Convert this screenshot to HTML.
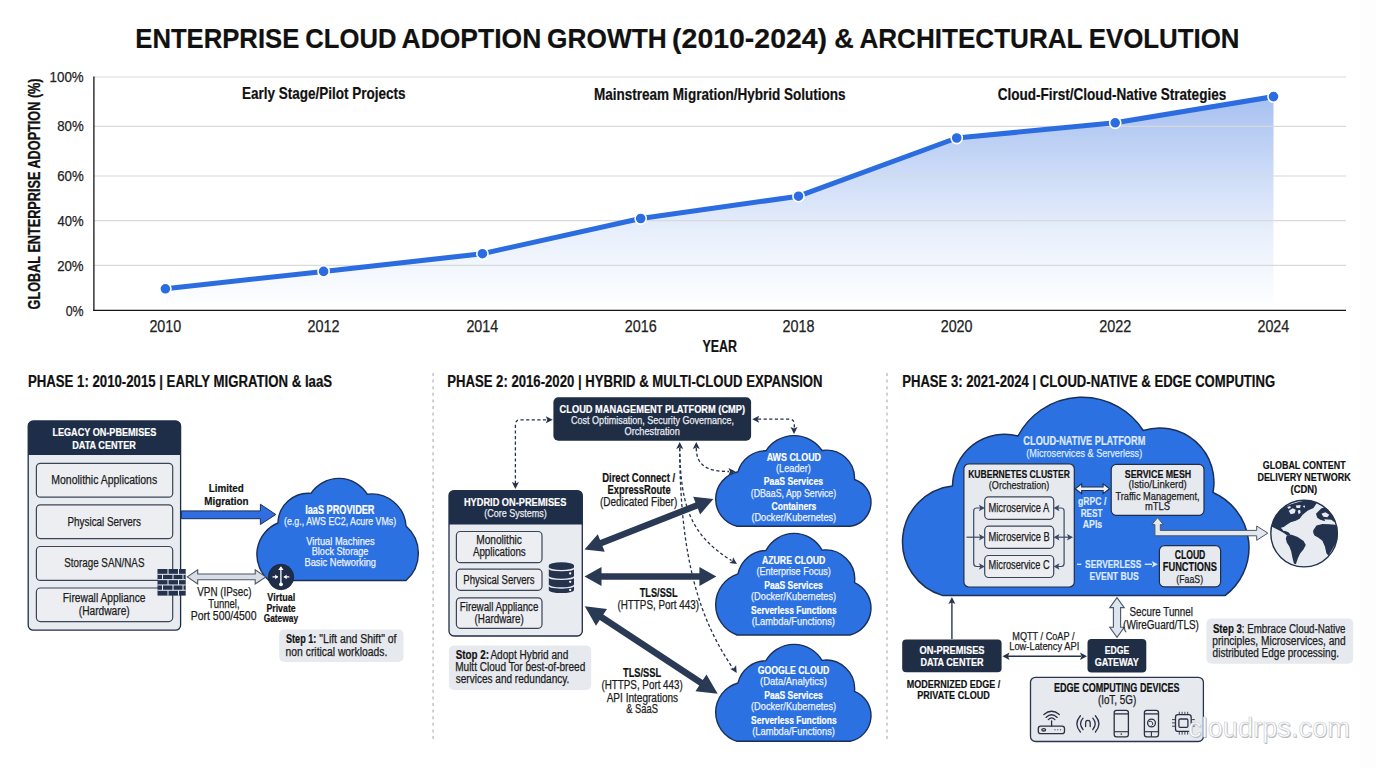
<!DOCTYPE html><html><head><meta charset="utf-8"><title>Enterprise Cloud Adoption Growth</title>
<style>html,body{margin:0;padding:0;background:#fff;overflow:hidden;width:1376px;height:768px;}svg{display:block;}text{font-family:"Liberation Sans",sans-serif;}</style></head><body>
<svg width="1376" height="768" viewBox="0 0 1376 768">
<defs><linearGradient id="ag" x1="0" y1="96" x2="0" y2="310" gradientUnits="userSpaceOnUse"><stop offset="0" stop-color="#a6c0f0"/><stop offset="0.3" stop-color="#c6d7f6"/><stop offset="0.65" stop-color="#e9f0fc"/><stop offset="1" stop-color="#ffffff"/></linearGradient></defs>
<rect x="0" y="0" width="1376" height="768" fill="#ffffff"/>
<rect x="1360" y="0" width="16" height="768" fill="#fdfdfd"/>
<text x="135.28" y="47.7" font-size="28" font-weight="bold" fill="#111" stroke="#111" stroke-width="0.2" textLength="164.02" lengthAdjust="spacingAndGlyphs">ENTERPRISE</text>
<text x="305.35" y="47.7" font-size="28" font-weight="bold" fill="#111" stroke="#111" stroke-width="0.2" textLength="91.03" lengthAdjust="spacingAndGlyphs">CLOUD</text>
<text x="401.54" y="47.7" font-size="28" font-weight="bold" fill="#111" stroke="#111" stroke-width="0.2" textLength="139.74" lengthAdjust="spacingAndGlyphs">ADOPTION</text>
<text x="547.12" y="47.7" font-size="28" font-weight="bold" fill="#111" stroke="#111" stroke-width="0.2" textLength="119.55" lengthAdjust="spacingAndGlyphs">GROWTH</text>
<text x="672.08" y="47.7" font-size="28" font-weight="bold" fill="#111" stroke="#111" stroke-width="0.2" textLength="155.03" lengthAdjust="spacingAndGlyphs">(2010-2024)</text>
<text x="834.31" y="47.7" font-size="28" font-weight="bold" fill="#111" stroke="#111" stroke-width="0.2" textLength="19.53" lengthAdjust="spacingAndGlyphs">&amp;</text>
<text x="859.45" y="47.7" font-size="28" font-weight="bold" fill="#111" stroke="#111" stroke-width="0.2" textLength="223.05" lengthAdjust="spacingAndGlyphs">ARCHITECTURAL</text>
<text x="1088.67" y="47.7" font-size="28" font-weight="bold" fill="#111" stroke="#111" stroke-width="0.2" textLength="150.87" lengthAdjust="spacingAndGlyphs">EVOLUTION</text>
<polygon points="165.4,310 165.4,288.8 323.6,271.4 482.4,253.7 640.7,218.5 798.5,196.2 956.7,138 1115.2,122.8 1273.5,96.6 1273.5,310" fill="url(#ag)"/>
<line x1="94" y1="77" x2="1346" y2="77" stroke="#d9d9d9" stroke-width="1.2"/>
<line x1="94" y1="126.4" x2="1346" y2="126.4" stroke="#d9d9d9" stroke-width="1.2"/>
<line x1="94" y1="176" x2="1346" y2="176" stroke="#d9d9d9" stroke-width="1.2"/>
<line x1="94" y1="220.7" x2="1346" y2="220.7" stroke="#d9d9d9" stroke-width="1.2"/>
<line x1="94" y1="265.4" x2="1346" y2="265.4" stroke="#d9d9d9" stroke-width="1.2"/>
<line x1="93.2" y1="310.3" x2="1346" y2="310.3" stroke="#151515" stroke-width="1.3"/>
<line x1="93.9" y1="76.5" x2="93.9" y2="311" stroke="#151515" stroke-width="1.3"/>
<polyline points="165.4,288.8 323.6,271.4 482.4,253.7 640.7,218.5 798.5,196.2 956.7,138 1115.2,122.8 1273.5,96.6" fill="none" stroke="#2b6ce0" stroke-width="5" stroke-linejoin="round" stroke-linecap="round"/>
<circle cx="165.4" cy="288.8" r="5.6" fill="#2b6ce0" stroke="#fff" stroke-width="1.6"/>
<circle cx="323.6" cy="271.4" r="5.6" fill="#2b6ce0" stroke="#fff" stroke-width="1.6"/>
<circle cx="482.4" cy="253.7" r="5.6" fill="#2b6ce0" stroke="#fff" stroke-width="1.6"/>
<circle cx="640.7" cy="218.5" r="5.6" fill="#2b6ce0" stroke="#fff" stroke-width="1.6"/>
<circle cx="798.5" cy="196.2" r="5.6" fill="#2b6ce0" stroke="#fff" stroke-width="1.6"/>
<circle cx="956.7" cy="138" r="5.6" fill="#2b6ce0" stroke="#fff" stroke-width="1.6"/>
<circle cx="1115.2" cy="122.8" r="5.6" fill="#2b6ce0" stroke="#fff" stroke-width="1.6"/>
<circle cx="1273.5" cy="96.6" r="5.6" fill="#2b6ce0" stroke="#fff" stroke-width="1.6"/>
<text x="49.59" y="81.9" font-size="15" font-weight="normal" fill="#222" stroke="#222" stroke-width="0.25" textLength="34.09" lengthAdjust="spacingAndGlyphs">100%</text>
<text x="57.23" y="131.4" font-size="15" font-weight="normal" fill="#222" stroke="#222" stroke-width="0.25" textLength="26.44" lengthAdjust="spacingAndGlyphs">80%</text>
<text x="57.13" y="181.4" font-size="15" font-weight="normal" fill="#222" stroke="#222" stroke-width="0.25" textLength="26.55" lengthAdjust="spacingAndGlyphs">60%</text>
<text x="57.50" y="226.4" font-size="15" font-weight="normal" fill="#222" stroke="#222" stroke-width="0.25" textLength="26.17" lengthAdjust="spacingAndGlyphs">40%</text>
<text x="57.13" y="271.2" font-size="15" font-weight="normal" fill="#222" stroke="#222" stroke-width="0.25" textLength="26.54" lengthAdjust="spacingAndGlyphs">20%</text>
<text x="65.72" y="315.5" font-size="15" font-weight="normal" fill="#222" stroke="#222" stroke-width="0.25" textLength="17.93" lengthAdjust="spacingAndGlyphs">0%</text>
<text transform="translate(40.3,309.4) rotate(-90)" x="0" y="0" font-size="16.5" font-weight="bold" fill="#111" stroke="#111" stroke-width="0.3" textLength="231" lengthAdjust="spacingAndGlyphs">GLOBAL ENTERPRISE ADOPTION (%)</text>
<text x="241.90" y="99.3" font-size="16.5" font-weight="bold" fill="#111" stroke="#111" stroke-width="0.2" textLength="163.56" lengthAdjust="spacingAndGlyphs">Early Stage/Pilot Projects</text>
<text x="594.00" y="99.7" font-size="16.5" font-weight="bold" fill="#111" stroke="#111" stroke-width="0.2" textLength="251.56" lengthAdjust="spacingAndGlyphs">Mainstream Migration/Hybrid Solutions</text>
<text x="997.64" y="99.9" font-size="16.5" font-weight="bold" fill="#111" stroke="#111" stroke-width="0.2" textLength="228.61" lengthAdjust="spacingAndGlyphs">Cloud-First/Cloud-Native Strategies</text>
<text x="149.38" y="332.0" font-size="16" font-weight="normal" fill="#222" stroke="#222" stroke-width="0.25" textLength="31.88" lengthAdjust="spacingAndGlyphs">2010</text>
<text x="307.58" y="332.0" font-size="16" font-weight="normal" fill="#222" stroke="#222" stroke-width="0.25" textLength="32.05" lengthAdjust="spacingAndGlyphs">2012</text>
<text x="466.38" y="332.0" font-size="16" font-weight="normal" fill="#222" stroke="#222" stroke-width="0.25" textLength="31.74" lengthAdjust="spacingAndGlyphs">2014</text>
<text x="624.68" y="332.0" font-size="16" font-weight="normal" fill="#222" stroke="#222" stroke-width="0.25" textLength="31.95" lengthAdjust="spacingAndGlyphs">2016</text>
<text x="782.48" y="332.0" font-size="16" font-weight="normal" fill="#222" stroke="#222" stroke-width="0.25" textLength="31.95" lengthAdjust="spacingAndGlyphs">2018</text>
<text x="940.68" y="332.0" font-size="16" font-weight="normal" fill="#222" stroke="#222" stroke-width="0.25" textLength="31.88" lengthAdjust="spacingAndGlyphs">2020</text>
<text x="1099.18" y="332.0" font-size="16" font-weight="normal" fill="#222" stroke="#222" stroke-width="0.25" textLength="32.05" lengthAdjust="spacingAndGlyphs">2022</text>
<text x="1257.48" y="332.0" font-size="16" font-weight="normal" fill="#222" stroke="#222" stroke-width="0.25" textLength="31.74" lengthAdjust="spacingAndGlyphs">2024</text>
<text x="702.49" y="352.1" font-size="16" font-weight="bold" fill="#111" stroke="#111" stroke-width="0.2" textLength="34.47" lengthAdjust="spacingAndGlyphs">YEAR</text>
<text x="27.92" y="386.6" font-size="16" font-weight="bold" fill="#111" stroke="#111" stroke-width="0.2" textLength="304.20" lengthAdjust="spacingAndGlyphs">PHASE 1: 2010-2015 | EARLY MIGRATION &amp; IaaS</text>
<text x="447.22" y="386.8" font-size="16" font-weight="bold" fill="#111" stroke="#111" stroke-width="0.2" textLength="375.36" lengthAdjust="spacingAndGlyphs">PHASE 2: 2016-2020 | HYBRID &amp; MULTI-CLOUD EXPANSION</text>
<text x="902.22" y="386.8" font-size="16" font-weight="bold" fill="#111" stroke="#111" stroke-width="0.2" textLength="372.89" lengthAdjust="spacingAndGlyphs">PHASE 3: 2021-2024 | CLOUD-NATIVE &amp; EDGE COMPUTING</text>
<line x1="433.1" y1="373" x2="433.1" y2="741" stroke="#c3c7ce" stroke-width="1.6" stroke-dasharray="3 3.6"/>
<line x1="887" y1="373" x2="887" y2="741" stroke="#c3c7ce" stroke-width="1.6" stroke-dasharray="3 3.6"/>
<rect x="28.2" y="421.0" width="152.4" height="209.2" rx="5" fill="#e8ebef" stroke="#1f2e48" stroke-width="1.3"/>
<path d="M28.2,455 V426 A5,5 0 0 1 33.2,421 H175.6 A5,5 0 0 1 180.6,426 V455 Z" fill="#1f2e48"/>
<text x="52.39" y="436.2" font-size="11" font-weight="bold" fill="#ffffff" stroke="#ffffff" stroke-width="0.2" textLength="103.96" lengthAdjust="spacingAndGlyphs">LEGACY ON-PBEMISES</text>
<text x="72.19" y="448.6" font-size="11" font-weight="bold" fill="#ffffff" stroke="#ffffff" stroke-width="0.2" textLength="63.60" lengthAdjust="spacingAndGlyphs">DATA CENTER</text>
<rect x="36.4" y="463.3" width="136.3" height="33.9" rx="4" fill="#eceef2" stroke="#3a4558" stroke-width="1.2"/>
<rect x="36.4" y="504.8" width="136.3" height="33.8" rx="4" fill="#eceef2" stroke="#3a4558" stroke-width="1.2"/>
<rect x="36.4" y="546.5" width="136.3" height="33.9" rx="4" fill="#eceef2" stroke="#3a4558" stroke-width="1.2"/>
<rect x="36.4" y="588.0" width="136.3" height="33.6" rx="4" fill="#eceef2" stroke="#3a4558" stroke-width="1.2"/>
<text x="51.34" y="484.0" font-size="12.5" font-weight="normal" fill="#1c1c1c" stroke="#1c1c1c" stroke-width="0.25" textLength="105.84" lengthAdjust="spacingAndGlyphs">Monolithic Applications</text>
<text x="67.49" y="525.6" font-size="12.5" font-weight="normal" fill="#1c1c1c" stroke="#1c1c1c" stroke-width="0.25" textLength="73.57" lengthAdjust="spacingAndGlyphs">Physical Servers</text>
<text x="64.25" y="567.0" font-size="12.5" font-weight="normal" fill="#1c1c1c" stroke="#1c1c1c" stroke-width="0.25" textLength="80.20" lengthAdjust="spacingAndGlyphs">Storage SAN/NAS</text>
<text x="62.86" y="602.3" font-size="12.5" font-weight="normal" fill="#1c1c1c" stroke="#1c1c1c" stroke-width="0.25" textLength="82.60" lengthAdjust="spacingAndGlyphs">Firewall Appliance</text>
<text x="78.77" y="614.5" font-size="12.5" font-weight="normal" fill="#1c1c1c" stroke="#1c1c1c" stroke-width="0.25" textLength="50.96" lengthAdjust="spacingAndGlyphs">(Hardware)</text>
<rect x="157.5" y="569" width="28.2" height="26.6" fill="#24324d"/>
<line x1="157.5" y1="574.32" x2="185.7" y2="574.32" stroke="#e8ebef" stroke-width="1"/>
<line x1="157.5" y1="579.64" x2="185.7" y2="579.64" stroke="#e8ebef" stroke-width="1"/>
<line x1="157.5" y1="584.96" x2="185.7" y2="584.96" stroke="#e8ebef" stroke-width="1"/>
<line x1="157.5" y1="590.28" x2="185.7" y2="590.28" stroke="#e8ebef" stroke-width="1"/>
<line x1="168.00" y1="569.00" x2="168.00" y2="574.32" stroke="#e8ebef" stroke-width="1"/>
<line x1="178.50" y1="569.00" x2="178.50" y2="574.32" stroke="#e8ebef" stroke-width="1"/>
<line x1="162.50" y1="574.32" x2="162.50" y2="579.64" stroke="#e8ebef" stroke-width="1"/>
<line x1="173.00" y1="574.32" x2="173.00" y2="579.64" stroke="#e8ebef" stroke-width="1"/>
<line x1="183.00" y1="574.32" x2="183.00" y2="579.64" stroke="#e8ebef" stroke-width="1"/>
<line x1="168.00" y1="579.64" x2="168.00" y2="584.96" stroke="#e8ebef" stroke-width="1"/>
<line x1="178.50" y1="579.64" x2="178.50" y2="584.96" stroke="#e8ebef" stroke-width="1"/>
<line x1="162.50" y1="584.96" x2="162.50" y2="590.28" stroke="#e8ebef" stroke-width="1"/>
<line x1="173.00" y1="584.96" x2="173.00" y2="590.28" stroke="#e8ebef" stroke-width="1"/>
<line x1="183.00" y1="584.96" x2="183.00" y2="590.28" stroke="#e8ebef" stroke-width="1"/>
<line x1="168.00" y1="590.28" x2="168.00" y2="595.60" stroke="#e8ebef" stroke-width="1"/>
<line x1="178.50" y1="590.28" x2="178.50" y2="595.60" stroke="#e8ebef" stroke-width="1"/>
<polygon points="181.4,510.9 260.4,510.9 260.4,504.2 275.8,514.5 260.4,524.5 260.4,518.7 181.4,518.7" fill="#2f6de0" stroke="#1b2f57" stroke-width="1"/>
<text x="208.84" y="492.2" font-size="11.5" font-weight="bold" fill="#111" stroke="#111" stroke-width="0.2" textLength="34.90" lengthAdjust="spacingAndGlyphs">Limited</text>
<text x="204.34" y="504.5" font-size="11.5" font-weight="bold" fill="#111" stroke="#111" stroke-width="0.2" textLength="44.27" lengthAdjust="spacingAndGlyphs">Migration</text>
<path d="M269.00,580.50 A34.01,34.01 0 0 1 278.00,523.00 A30.33,30.33 0 0 1 311.00,493.40 A33.34,33.34 0 0 1 367.20,494.20 A34.35,34.35 0 0 1 406.00,526.00 A36.20,36.20 0 0 1 406.00,580.50 Z" fill="#2b71e2" stroke="#1b2f57" stroke-width="1.4" stroke-linejoin="round"/>
<text x="305.19" y="513.6" font-size="12" font-weight="bold" fill="#ffffff" stroke="#ffffff" stroke-width="0.2" textLength="69.30" lengthAdjust="spacingAndGlyphs">IaaS PROVIDER</text>
<text x="284.05" y="524.5" font-size="11.5" font-weight="normal" fill="#eef3ff" stroke="#eef3ff" stroke-width="0.25" textLength="112.20" lengthAdjust="spacingAndGlyphs">(e.g., AWS EC2, Acure VMs)</text>
<text x="306.16" y="544.5" font-size="11.5" font-weight="normal" fill="#eef3ff" stroke="#eef3ff" stroke-width="0.25" textLength="68.48" lengthAdjust="spacingAndGlyphs">Virtual Machines</text>
<text x="311.75" y="555.4" font-size="11.5" font-weight="normal" fill="#eef3ff" stroke="#eef3ff" stroke-width="0.25" textLength="56.65" lengthAdjust="spacingAndGlyphs">Block Storage</text>
<text x="304.54" y="566.3" font-size="11.5" font-weight="normal" fill="#eef3ff" stroke="#eef3ff" stroke-width="0.25" textLength="71.45" lengthAdjust="spacingAndGlyphs">Basic Networking</text>
<polygon points="187.20,576.90 197.70,583.90 197.70,579.75 255.20,579.75 255.20,583.90 265.70,576.90 255.20,569.90 255.20,574.05 197.70,574.05 197.70,569.90" fill="#d9dee6" stroke="#4a5568" stroke-width="1.1" stroke-linejoin="miter"/>
<text x="197.26" y="596.3" font-size="12" font-weight="normal" fill="#1c1c1c" stroke="#1c1c1c" stroke-width="0.25" textLength="54.25" lengthAdjust="spacingAndGlyphs">VPN (IPsec)</text>
<text x="208.29" y="608.0" font-size="12" font-weight="normal" fill="#1c1c1c" stroke="#1c1c1c" stroke-width="0.25" textLength="31.26" lengthAdjust="spacingAndGlyphs">Tunnel,</text>
<text x="190.74" y="620.2" font-size="12" font-weight="normal" fill="#1c1c1c" stroke="#1c1c1c" stroke-width="0.25" textLength="65.77" lengthAdjust="spacingAndGlyphs">Port 500/4500</text>
<circle cx="281" cy="577" r="12.7" fill="#1f2d48" stroke="#17223a" stroke-width="0.8"/>
<g stroke="#fff" stroke-width="1.3" fill="none" stroke-linecap="round"><line x1="280.9" y1="568" x2="280.9" y2="584"/><line x1="273" y1="576.9" x2="277.5" y2="576.9"/><line x1="284.3" y1="576.9" x2="288.8" y2="576.9"/></g>
<polygon points="280.9,566.2 278.2,570 283.6,570" fill="#fff"/>
<polygon points="278,576.9 275.2,574.6 275.2,579.2" fill="#fff"/>
<polygon points="283.8,576.9 286.6,574.6 286.6,579.2" fill="#fff"/>
<circle cx="281" cy="584.3" r="1.9" fill="#fff"/>
<text x="267.34" y="600.5" font-size="10.5" font-weight="bold" fill="#111" stroke="#111" stroke-width="0.2" textLength="27.80" lengthAdjust="spacingAndGlyphs">Virtual</text>
<text x="266.41" y="611.5" font-size="10.5" font-weight="bold" fill="#111" stroke="#111" stroke-width="0.2" textLength="29.29" lengthAdjust="spacingAndGlyphs">Private</text>
<text x="263.66" y="621.9" font-size="10.5" font-weight="bold" fill="#111" stroke="#111" stroke-width="0.2" textLength="34.39" lengthAdjust="spacingAndGlyphs">Gateway</text>
<rect x="279.3" y="629.4" width="124.2" height="32.6" rx="5" fill="#e6e9ee" stroke="none" stroke-width="0"/>
<text x="286.04" y="643.4" font-size="12" font-weight="bold" fill="#111" stroke="#111" stroke-width="0.2" textLength="30.23" lengthAdjust="spacingAndGlyphs">Step 1:</text>
<text x="319.36" y="643.4" font-size="12" font-weight="normal" fill="#1c1c1c" stroke="#1c1c1c" stroke-width="0.25" textLength="77.13" lengthAdjust="spacingAndGlyphs">"Lift and Shift" of</text>
<text x="285.61" y="655.6" font-size="12" font-weight="normal" fill="#1c1c1c" stroke="#1c1c1c" stroke-width="0.25" textLength="101.73" lengthAdjust="spacingAndGlyphs">non critical workloads.</text>
<path d="M515.4,484 V424.8 Q515.4,419.8 520.4,419.8 H547" fill="none" stroke="#24324d" stroke-width="1.3" stroke-dasharray="3.2 2.4"/>
<polygon points="552.80,419.80 545.80,423.30 547.34,419.80 545.80,416.30" fill="#24324d"/>
<polygon points="515.40,489.00 511.90,482.00 515.40,483.54 518.90,482.00" fill="#24324d"/>
<path d="M758,419.2 H789.3 Q794.3,419.2 794.3,424.2 V428" fill="none" stroke="#24324d" stroke-width="1.3" stroke-dasharray="3.2 2.4"/>
<polygon points="752.20,419.20 759.20,415.70 757.66,419.20 759.20,422.70" fill="#24324d"/>
<polygon points="794.00,434.00 790.50,427.00 794.00,428.54 797.50,427.00" fill="#24324d"/>
<path d="M696.3,448 C696.3,466 708,471.5 729,471.5" fill="none" stroke="#24324d" stroke-width="1.3" stroke-dasharray="3.2 2.4"/>
<polygon points="735.50,471.50 728.50,475.00 730.04,471.50 728.50,468.00" fill="#24324d"/>
<polygon points="696.30,442.00 699.80,449.00 696.30,447.46 692.80,449.00" fill="#24324d"/>
<path d="M679.7,448 C680.5,505 690,535 731.5,560.5" fill="none" stroke="#24324d" stroke-width="1.3" stroke-dasharray="3.2 2.4"/>
<polygon points="737.00,564.00 729.22,563.12 732.42,561.02 733.04,557.25" fill="#24324d"/>
<polygon points="679.70,442.00 683.20,449.00 679.70,447.46 676.20,449.00" fill="#24324d"/>
<path d="M679.7,448 C680,560 700,620 733,668.5" fill="none" stroke="#24324d" stroke-width="1.3" stroke-dasharray="3.2 2.4"/>
<polygon points="736.70,673.00 730.10,668.80 733.89,668.32 736.10,665.20" fill="#24324d"/>
<rect x="553.4" y="397.2" width="197.7" height="43.6" rx="5" fill="#1f2d45" stroke="none" stroke-width="0"/>
<text x="559.62" y="412.5" font-size="11.5" font-weight="bold" fill="#ffffff" stroke="#ffffff" stroke-width="0.2" textLength="185.44" lengthAdjust="spacingAndGlyphs">CLOUD MANAGEMENT PLATFORM (CMP)</text>
<text x="571.04" y="424.2" font-size="11.5" font-weight="normal" fill="#e8ecf3" stroke="#e8ecf3" stroke-width="0.25" textLength="163.07" lengthAdjust="spacingAndGlyphs">Cost Optimisation, Security Governance,</text>
<text x="624.46" y="434.7" font-size="11.5" font-weight="normal" fill="#e8ecf3" stroke="#e8ecf3" stroke-width="0.25" textLength="55.34" lengthAdjust="spacingAndGlyphs">Orchestration</text>
<rect x="449.0" y="490.6" width="133.3" height="145.4" rx="5" fill="#e8ebef" stroke="#1f2e48" stroke-width="1.3"/>
<path d="M449,524.4 V495.6 A5,5 0 0 1 454,490.6 H577.3 A5,5 0 0 1 582.3,495.6 V524.4 Z" fill="#1f2e48"/>
<text x="463.98" y="505.8" font-size="11.5" font-weight="bold" fill="#ffffff" stroke="#ffffff" stroke-width="0.2" textLength="102.38" lengthAdjust="spacingAndGlyphs">HYDRID ON-PREMISES</text>
<text x="484.24" y="517.1" font-size="11.5" font-weight="normal" fill="#e8ecf3" stroke="#e8ecf3" stroke-width="0.25" textLength="62.62" lengthAdjust="spacingAndGlyphs">(Core Systems)</text>
<rect x="456.4" y="531.5" width="85.6" height="31.2" rx="4" fill="#eceef2" stroke="#3a4558" stroke-width="1.2"/>
<rect x="456.4" y="569.2" width="85.6" height="21.1" rx="4" fill="#eceef2" stroke="#3a4558" stroke-width="1.2"/>
<rect x="456.4" y="597.8" width="85.6" height="30.5" rx="4" fill="#eceef2" stroke="#3a4558" stroke-width="1.2"/>
<text x="476.17" y="544.2" font-size="12" font-weight="normal" fill="#1c1c1c" stroke="#1c1c1c" stroke-width="0.25" textLength="45.80" lengthAdjust="spacingAndGlyphs">Monolithic</text>
<text x="472.88" y="555.8" font-size="12" font-weight="normal" fill="#1c1c1c" stroke="#1c1c1c" stroke-width="0.25" textLength="52.87" lengthAdjust="spacingAndGlyphs">Applications</text>
<text x="463.32" y="583.7" font-size="12" font-weight="normal" fill="#1c1c1c" stroke="#1c1c1c" stroke-width="0.25" textLength="71.23" lengthAdjust="spacingAndGlyphs">Physical Servers</text>
<text x="459.80" y="610.9" font-size="12" font-weight="normal" fill="#1c1c1c" stroke="#1c1c1c" stroke-width="0.25" textLength="78.63" lengthAdjust="spacingAndGlyphs">Firewall Appliance</text>
<text x="474.59" y="622.6" font-size="12" font-weight="normal" fill="#1c1c1c" stroke="#1c1c1c" stroke-width="0.25" textLength="49.22" lengthAdjust="spacingAndGlyphs">(Hardware)</text>
<path d="M548.8,565.6 A12.6,3.3 0 0 1 574,565.6 V590 A12.6,3.1 0 0 1 548.8,590 Z" fill="#24324d"/>
<path d="M548.3,567.4 A13.1,3.2 0 0 0 574.5,567.4" fill="none" stroke="#e8ebef" stroke-width="1.3"/>
<path d="M548.3,576.2 A13.1,3.2 0 0 0 574.5,576.2" fill="none" stroke="#e8ebef" stroke-width="1.3"/>
<path d="M548.3,584.8 A13.1,3.2 0 0 0 574.5,584.8" fill="none" stroke="#e8ebef" stroke-width="1.3"/>
<circle cx="570.2" cy="573.4" r="1.15" fill="#fff"/>
<circle cx="570.2" cy="581.8" r="1.15" fill="#fff"/>
<circle cx="570.2" cy="589.9" r="1.15" fill="#fff"/>
<rect x="448.9" y="645.4" width="142.3" height="44.5" rx="5" fill="#e6e9ee" stroke="none" stroke-width="0"/>
<text x="455.72" y="659.4" font-size="12" font-weight="bold" fill="#111" stroke="#111" stroke-width="0.2" textLength="33.23" lengthAdjust="spacingAndGlyphs">Stop 2:</text>
<text x="490.38" y="659.4" font-size="12" font-weight="normal" fill="#1c1c1c" stroke="#1c1c1c" stroke-width="0.25" textLength="77.97" lengthAdjust="spacingAndGlyphs">Adopt Hybrid and</text>
<text x="455.17" y="671.2" font-size="12" font-weight="normal" fill="#1c1c1c" stroke="#1c1c1c" stroke-width="0.25" textLength="130.07" lengthAdjust="spacingAndGlyphs">Multt Cloud Tor best-of-breed</text>
<text x="455.72" y="683.3" font-size="12" font-weight="normal" fill="#1c1c1c" stroke="#1c1c1c" stroke-width="0.25" textLength="113.60" lengthAdjust="spacingAndGlyphs">services and redundancy.</text>
<polygon points="584.50,549.60 604.73,551.87 602.44,546.05 697.83,508.60 700.12,514.42 713.40,499.00 693.17,496.73 695.46,502.55 600.07,540.00 597.78,534.18" fill="#2a3a55" stroke="none" stroke-width="0" stroke-linejoin="miter"/>
<polygon points="584.50,576.60 601.50,586.10 601.50,579.85 699.40,579.85 699.40,586.10 716.40,576.60 699.40,567.10 699.40,573.35 601.50,573.35 601.50,567.10" fill="#2a3a55" stroke="none" stroke-width="0" stroke-linejoin="miter"/>
<polygon points="584.80,606.30 596.01,625.65 599.72,620.01 699.21,685.52 695.50,691.15 717.70,693.80 706.49,674.45 702.78,680.09 603.29,614.58 607.00,608.95" fill="#2a3a55" stroke="none" stroke-width="0" stroke-linejoin="miter"/>
<text x="602.16" y="482.2" font-size="12" font-weight="bold" fill="#111" stroke="#111" stroke-width="0.2" textLength="72.93" lengthAdjust="spacingAndGlyphs">Direct Connect /</text>
<text x="607.57" y="493.9" font-size="12" font-weight="bold" fill="#111" stroke="#111" stroke-width="0.2" textLength="63.05" lengthAdjust="spacingAndGlyphs">ExpressRoute</text>
<text x="599.88" y="506.3" font-size="12" font-weight="normal" fill="#1c1c1c" stroke="#1c1c1c" stroke-width="0.25" textLength="77.34" lengthAdjust="spacingAndGlyphs">(Dedicated Fiber)</text>
<text x="639.70" y="596.5" font-size="12" font-weight="bold" fill="#111" stroke="#111" stroke-width="0.2" textLength="37.89" lengthAdjust="spacingAndGlyphs">TLS/SSL</text>
<text x="617.39" y="609.2" font-size="12" font-weight="normal" fill="#1c1c1c" stroke="#1c1c1c" stroke-width="0.25" textLength="81.62" lengthAdjust="spacingAndGlyphs">(HTTPS, Port 443)</text>
<text x="623.00" y="677.3" font-size="12" font-weight="bold" fill="#111" stroke="#111" stroke-width="0.2" textLength="38.19" lengthAdjust="spacingAndGlyphs">TLS/SSL</text>
<text x="601.39" y="689.4" font-size="12" font-weight="normal" fill="#1c1c1c" stroke="#1c1c1c" stroke-width="0.25" textLength="81.42" lengthAdjust="spacingAndGlyphs">(HTTPS, Port 443)</text>
<text x="606.68" y="701.6" font-size="12" font-weight="normal" fill="#1c1c1c" stroke="#1c1c1c" stroke-width="0.25" textLength="71.48" lengthAdjust="spacingAndGlyphs">API Integrations</text>
<text x="626.27" y="713.3" font-size="12" font-weight="normal" fill="#1c1c1c" stroke="#1c1c1c" stroke-width="0.25" textLength="31.66" lengthAdjust="spacingAndGlyphs">&amp; SaaS</text>
<path d="M737.00,526.30 A28.00,28.00 0 0 1 738.00,471.70 A28.81,28.81 0 0 1 766.00,450.80 A33.57,33.57 0 0 1 822.00,450.50 A28.02,28.02 0 0 1 854.50,479.50 A24.12,24.12 0 0 1 850.00,526.30 Z" fill="#2b71e2" stroke="#1b2f57" stroke-width="1.4" stroke-linejoin="round"/>
<path d="M737.00,635.00 A32.35,32.35 0 0 1 738.00,573.84 A29.45,29.45 0 0 1 766.00,550.43 A31.68,31.68 0 0 1 822.00,550.09 A29.19,29.19 0 0 1 854.50,582.58 A27.85,27.85 0 0 1 850.00,635.00 Z" fill="#2b71e2" stroke="#1b2f57" stroke-width="1.4" stroke-linejoin="round"/>
<path d="M737.00,741.30 A30.41,30.41 0 0 1 738.00,682.97 A29.13,29.13 0 0 1 766.00,660.64 A32.41,32.41 0 0 1 822.00,660.32 A28.66,28.66 0 0 1 854.50,691.30 A26.19,26.19 0 0 1 850.00,741.30 Z" fill="#2b71e2" stroke="#1b2f57" stroke-width="1.4" stroke-linejoin="round"/>
<text x="766.68" y="460.6" font-size="11.5" font-weight="bold" fill="#ffffff" stroke="#ffffff" stroke-width="0.2" textLength="54.29" lengthAdjust="spacingAndGlyphs">AWS CLOUD</text>
<text x="776.03" y="472.0" font-size="11.5" font-weight="normal" fill="#eef3ff" stroke="#eef3ff" stroke-width="0.25" textLength="34.74" lengthAdjust="spacingAndGlyphs">(Leader)</text>
<text x="763.82" y="485.3" font-size="11.5" font-weight="bold" fill="#ffffff" stroke="#ffffff" stroke-width="0.2" textLength="59.23" lengthAdjust="spacingAndGlyphs">PaaS Services</text>
<text x="750.76" y="496.6" font-size="11.5" font-weight="normal" fill="#eef3ff" stroke="#eef3ff" stroke-width="0.25" textLength="85.39" lengthAdjust="spacingAndGlyphs">(DBaaS, App Service)</text>
<text x="771.55" y="510.3" font-size="11.5" font-weight="bold" fill="#ffffff" stroke="#ffffff" stroke-width="0.2" textLength="44.70" lengthAdjust="spacingAndGlyphs">Containers</text>
<text x="751.43" y="520.8" font-size="11.5" font-weight="normal" fill="#eef3ff" stroke="#eef3ff" stroke-width="0.25" textLength="84.74" lengthAdjust="spacingAndGlyphs">(Docker/Kubernetes)</text>
<text x="761.98" y="564.4" font-size="11.5" font-weight="bold" fill="#ffffff" stroke="#ffffff" stroke-width="0.2" textLength="63.38" lengthAdjust="spacingAndGlyphs">AZURE CLOUD</text>
<text x="756.44" y="575.3" font-size="11.5" font-weight="normal" fill="#eef3ff" stroke="#eef3ff" stroke-width="0.25" textLength="74.32" lengthAdjust="spacingAndGlyphs">(Enterprise Focus)</text>
<text x="764.23" y="589.4" font-size="11.5" font-weight="bold" fill="#ffffff" stroke="#ffffff" stroke-width="0.2" textLength="58.42" lengthAdjust="spacingAndGlyphs">PaaS Services</text>
<text x="751.03" y="600.3" font-size="11.5" font-weight="normal" fill="#eef3ff" stroke="#eef3ff" stroke-width="0.25" textLength="85.14" lengthAdjust="spacingAndGlyphs">(Docker/Kubernetes)</text>
<text x="751.06" y="614.4" font-size="11.5" font-weight="bold" fill="#ffffff" stroke="#ffffff" stroke-width="0.2" textLength="85.59" lengthAdjust="spacingAndGlyphs">Serverless Functions</text>
<text x="751.72" y="625.3" font-size="11.5" font-weight="normal" fill="#eef3ff" stroke="#eef3ff" stroke-width="0.25" textLength="83.26" lengthAdjust="spacingAndGlyphs">(Lambda/Functions)</text>
<text x="757.74" y="674.4" font-size="11.5" font-weight="bold" fill="#ffffff" stroke="#ffffff" stroke-width="0.2" textLength="71.52" lengthAdjust="spacingAndGlyphs">GOOGLE CLOUD</text>
<text x="760.01" y="685.3" font-size="11.5" font-weight="normal" fill="#eef3ff" stroke="#eef3ff" stroke-width="0.25" textLength="66.88" lengthAdjust="spacingAndGlyphs">(Data/Analytics)</text>
<text x="764.23" y="699.4" font-size="11.5" font-weight="bold" fill="#ffffff" stroke="#ffffff" stroke-width="0.2" textLength="58.42" lengthAdjust="spacingAndGlyphs">PaaS Services</text>
<text x="751.03" y="710.3" font-size="11.5" font-weight="normal" fill="#eef3ff" stroke="#eef3ff" stroke-width="0.25" textLength="85.14" lengthAdjust="spacingAndGlyphs">(Docker/Kubernetes)</text>
<text x="751.06" y="724.4" font-size="11.5" font-weight="bold" fill="#ffffff" stroke="#ffffff" stroke-width="0.2" textLength="85.59" lengthAdjust="spacingAndGlyphs">Serverless Functions</text>
<text x="752.22" y="735.0" font-size="11.5" font-weight="normal" fill="#eef3ff" stroke="#eef3ff" stroke-width="0.25" textLength="82.75" lengthAdjust="spacingAndGlyphs">(Lambda/Functions)</text>
<path d="M943.00,595.60 A56.07,56.07 0 0 1 952.50,486.00 A52.14,52.14 0 0 1 1018.00,436.00 A72.50,72.50 0 0 1 1143.20,430.50 A54.30,54.30 0 0 1 1213.00,492.50 A60.09,60.09 0 0 1 1225.00,595.60 Z" fill="#2b71e2" stroke="#1b2f57" stroke-width="1.5" stroke-linejoin="round"/>
<text x="1023.37" y="445.0" font-size="12" font-weight="bold" fill="#dfe9ff" stroke="#dfe9ff" stroke-width="0.2" textLength="121.94" lengthAdjust="spacingAndGlyphs">CLOUD-NATIVE PLATFORM</text>
<text x="1026.34" y="456.6" font-size="11.5" font-weight="normal" fill="#dfe9ff" stroke="#dfe9ff" stroke-width="0.25" textLength="115.83" lengthAdjust="spacingAndGlyphs">(Microservices &amp; Serverless)</text>
<rect x="963.9" y="463.8" width="110.4" height="123.2" rx="5" fill="#e6e9ee" stroke="#1f2e48" stroke-width="1.2"/>
<text x="968.18" y="478.4" font-size="11.5" font-weight="bold" fill="#111" stroke="#111" stroke-width="0.2" textLength="101.70" lengthAdjust="spacingAndGlyphs">KUBERNETES CLUSTER</text>
<text x="988.84" y="489.4" font-size="11.5" font-weight="normal" fill="#1c1c1c" stroke="#1c1c1c" stroke-width="0.25" textLength="60.47" lengthAdjust="spacingAndGlyphs">(Orchestration)</text>
<rect x="984.7" y="496.8" width="69.0" height="22.5" rx="4" fill="#eceef2" stroke="#3a4558" stroke-width="1.2"/>
<text x="988.53" y="511.5" font-size="12" font-weight="normal" fill="#1c1c1c" stroke="#1c1c1c" stroke-width="0.25" textLength="60.68" lengthAdjust="spacingAndGlyphs">Microservice A</text>
<rect x="984.7" y="526.2" width="69.0" height="22.1" rx="4" fill="#eceef2" stroke="#3a4558" stroke-width="1.2"/>
<text x="988.53" y="540.5" font-size="12" font-weight="normal" fill="#1c1c1c" stroke="#1c1c1c" stroke-width="0.25" textLength="61.16" lengthAdjust="spacingAndGlyphs">Microservice B</text>
<rect x="984.7" y="555.5" width="69.0" height="22.0" rx="4" fill="#eceef2" stroke="#3a4558" stroke-width="1.2"/>
<text x="988.54" y="569.4" font-size="12" font-weight="normal" fill="#1c1c1c" stroke="#1c1c1c" stroke-width="0.25" textLength="61.01" lengthAdjust="spacingAndGlyphs">Microservice C</text>
<path d="M982,508 H976.7 Q973.7,508 973.7,511 V563.5 Q973.7,566.5 976.7,566.5 H982" fill="none" stroke="#3a4a66" stroke-width="1.2"/>
<path d="M966.5,537.2 H982" fill="none" stroke="#3a4a66" stroke-width="1.2"/>
<path d="M1056.5,508 H1061.1 Q1064.1,508 1064.1,511 V563.5 Q1064.1,566.5 1061.1,566.5 H1056.5" fill="none" stroke="#3a4a66" stroke-width="1.2"/>
<path d="M1056.5,537.2 H1070" fill="none" stroke="#3a4a66" stroke-width="1.2"/>
<polygon points="984.90,508.00 978.90,511.25 980.22,508.00 978.90,504.75" fill="#3a4a66"/>
<polygon points="1053.50,508.00 1059.50,504.75 1058.18,508.00 1059.50,511.25" fill="#3a4a66"/>
<polygon points="984.90,537.20 978.90,540.45 980.22,537.20 978.90,533.95" fill="#3a4a66"/>
<polygon points="1053.50,537.20 1059.50,533.95 1058.18,537.20 1059.50,540.45" fill="#3a4a66"/>
<polygon points="984.90,566.50 978.90,569.75 980.22,566.50 978.90,563.25" fill="#3a4a66"/>
<polygon points="1053.50,566.50 1059.50,563.25 1058.18,566.50 1059.50,569.75" fill="#3a4a66"/>
<polygon points="1073.00,537.20 1067.00,540.45 1068.32,537.20 1067.00,533.95" fill="#3a4a66"/>
<rect x="1111.2" y="464.4" width="92.8" height="50.9" rx="5" fill="#e6e9ee" stroke="#1f2e48" stroke-width="1.2"/>
<text x="1124.75" y="477.5" font-size="11.5" font-weight="bold" fill="#111" stroke="#111" stroke-width="0.2" textLength="66.45" lengthAdjust="spacingAndGlyphs">SERVICE MESH</text>
<text x="1128.40" y="487.8" font-size="11.5" font-weight="normal" fill="#1c1c1c" stroke="#1c1c1c" stroke-width="0.25" textLength="58.45" lengthAdjust="spacingAndGlyphs">(Istio/Linkerd)</text>
<text x="1115.39" y="500.3" font-size="11.5" font-weight="normal" fill="#1c1c1c" stroke="#1c1c1c" stroke-width="0.25" textLength="84.19" lengthAdjust="spacingAndGlyphs">Traffic Management,</text>
<text x="1144.97" y="510.3" font-size="11.5" font-weight="normal" fill="#1c1c1c" stroke="#1c1c1c" stroke-width="0.25" textLength="25.16" lengthAdjust="spacingAndGlyphs">mTLS</text>
<polygon points="1075.20,488.75 1081.70,493.65 1081.70,490.45 1103.10,490.45 1103.10,493.65 1109.60,488.75 1103.10,483.85 1103.10,487.05 1081.70,487.05 1081.70,483.85" fill="#eef2f8" stroke="#1f2d48" stroke-width="1.1" stroke-linejoin="miter"/>
<text x="1078.05" y="505.0" font-size="11" font-weight="bold" fill="#dfe9ff" stroke="#dfe9ff" stroke-width="0.2" textLength="28.29" lengthAdjust="spacingAndGlyphs">gRPC /</text>
<text x="1080.70" y="516.9" font-size="11" font-weight="bold" fill="#dfe9ff" stroke="#dfe9ff" stroke-width="0.2" textLength="21.89" lengthAdjust="spacingAndGlyphs">REST</text>
<text x="1082.78" y="527.5" font-size="11" font-weight="bold" fill="#dfe9ff" stroke="#dfe9ff" stroke-width="0.2" textLength="19.48" lengthAdjust="spacingAndGlyphs">APIs</text>
<rect x="1159.4" y="545.6" width="61.2" height="41.3" rx="5" fill="#e6e9ee" stroke="#1f2e48" stroke-width="1.2"/>
<text x="1174.65" y="558.8" font-size="12" font-weight="bold" fill="#111" stroke="#111" stroke-width="0.2" textLength="30.72" lengthAdjust="spacingAndGlyphs">CLOUD</text>
<text x="1162.78" y="571.2" font-size="12" font-weight="bold" fill="#111" stroke="#111" stroke-width="0.2" textLength="54.18" lengthAdjust="spacingAndGlyphs">FUNCTIONS</text>
<text x="1176.36" y="582.5" font-size="11.5" font-weight="normal" fill="#1c1c1c" stroke="#1c1c1c" stroke-width="0.25" textLength="26.68" lengthAdjust="spacingAndGlyphs">(FaaS)</text>
<line x1="1077" y1="564.3" x2="1081.3" y2="564.3" stroke="#dfe9ff" stroke-width="1.3"/>
<text x="1085.06" y="568.1" font-size="11.5" font-weight="bold" fill="#dfe9ff" stroke="#dfe9ff" stroke-width="0.2" textLength="56.27" lengthAdjust="spacingAndGlyphs">SERVERLESS</text>
<text x="1089.42" y="580.0" font-size="11.5" font-weight="bold" fill="#dfe9ff" stroke="#dfe9ff" stroke-width="0.2" textLength="49.31" lengthAdjust="spacingAndGlyphs">EVENT BUS</text>
<line x1="1144.7" y1="564.3" x2="1152" y2="564.3" stroke="#dfe9ff" stroke-width="1.3"/>
<polygon points="1157.80,564.30 1151.80,567.55 1153.12,564.30 1151.80,561.05" fill="#dfe9ff"/>
<polygon points="1157.6,517.6 1163.3,524.6 1160.3,524.6 1160.3,530.4 1256.7,530.4 1256.7,526 1267.8,533.1 1256.7,540.3 1256.7,535.8 1154.9,535.8 1154.9,524.6 1151.9,524.6" fill="#e3e8ef" stroke="#4a5568" stroke-width="1" stroke-linejoin="miter"/>
<text x="1262.74" y="468.6" font-size="11.5" font-weight="bold" fill="#111" stroke="#111" stroke-width="0.2" textLength="82.86" lengthAdjust="spacingAndGlyphs">GLOBAL CONTENT</text>
<text x="1257.40" y="481.0" font-size="11.5" font-weight="bold" fill="#111" stroke="#111" stroke-width="0.2" textLength="93.28" lengthAdjust="spacingAndGlyphs">DELIVERY NETWORK</text>
<text x="1290.53" y="493.2" font-size="11.5" font-weight="bold" fill="#111" stroke="#111" stroke-width="0.2" textLength="26.69" lengthAdjust="spacingAndGlyphs">(CDN)</text>
<defs><clipPath id="gc"><circle cx="1304.1" cy="533.6" r="33.6"/></clipPath></defs>
<circle cx="1304.1" cy="533.6" r="33.4" fill="#e8ecf1"/>
<g clip-path="url(#gc)"><g transform="translate(1266,496) scale(0.09896)" fill="#22324f"><path d="M40,300 L70,250 L110,170 L180,110 L260,80 L330,60 L420,40 L520,60 L480,120 L420,150 L370,190 L340,230 L300,250 L250,265 L210,290 L170,320 L190,350 L230,370 L250,395 L215,400 L180,375 L140,350 L100,330 Z"/><path d="M210,400 L260,392 L320,415 L380,455 L402,495 L378,540 L345,580 L322,630 L302,690 L282,682 L266,620 L255,560 L236,510 L210,470 L200,430 Z"/><path d="M505,180 L560,125 L620,110 L690,150 L730,230 L700,262 L640,262 L590,252 L548,240 L518,220 Z"/><path d="M478,345 L510,298 L570,282 L640,286 L700,290 L740,330 L740,420 L705,480 L668,540 L632,605 L610,578 L596,512 L570,452 L530,422 L490,398 L476,368 Z"/></g><g transform="translate(1266,496) scale(0.09896)" fill="#e8ecf1"><path d="M230,150 L270,125 L300,140 L290,175 L250,185 Z"/><path d="M300,95 L350,90 L345,120 L310,120 Z"/><path d="M215,110 L245,100 L250,120 L225,128 Z"/><path d="M320,150 L345,140 L350,170 L330,185 Z"/><path d="M370,100 L395,95 L390,120 Z"/><path d="M150,320 L190,310 L215,340 L180,355 Z"/><path d="M560,180 L600,165 L640,190 L620,215 L580,210 Z"/><path d="M590,235 L660,240 L690,262 L600,262 Z"/></g></g>
<circle cx="1304.1" cy="533.6" r="33.3" fill="none" stroke="#22324f" stroke-width="1.4"/>
<line x1="951.9" y1="639" x2="951.9" y2="602" stroke="#3a4558" stroke-width="1.5"/>
<polygon points="951.90,597.00 955.40,604.00 951.90,602.46 948.40,604.00" fill="#2a3650"/>
<rect x="902.2" y="639.4" width="99.4" height="32.9" rx="4" fill="#1f2d45" stroke="none" stroke-width="0"/>
<text x="919.62" y="653.7" font-size="11.5" font-weight="bold" fill="#ffffff" stroke="#ffffff" stroke-width="0.2" textLength="64.94" lengthAdjust="spacingAndGlyphs">ON-PREMISES</text>
<text x="920.40" y="665.9" font-size="11.5" font-weight="bold" fill="#ffffff" stroke="#ffffff" stroke-width="0.2" textLength="63.09" lengthAdjust="spacingAndGlyphs">DATA CENTER</text>
<text x="906.80" y="687.7" font-size="11.5" font-weight="bold" fill="#111" stroke="#111" stroke-width="0.2" textLength="93.49" lengthAdjust="spacingAndGlyphs">MODERNIZED EDGE /</text>
<text x="917.30" y="699.4" font-size="11.5" font-weight="bold" fill="#111" stroke="#111" stroke-width="0.2" textLength="72.48" lengthAdjust="spacingAndGlyphs">PRIVATE CLOUD</text>
<line x1="1008" y1="656.3" x2="1081" y2="656.3" stroke="#24324d" stroke-width="1.5"/>
<polygon points="1002.50,656.30 1009.50,652.55 1007.96,656.30 1009.50,660.05" fill="#24324d"/>
<polygon points="1087.00,656.30 1080.00,660.05 1081.54,656.30 1080.00,652.55" fill="#24324d"/>
<text x="1012.25" y="639.7" font-size="11.5" font-weight="normal" fill="#1c1c1c" stroke="#1c1c1c" stroke-width="0.25" textLength="62.25" lengthAdjust="spacingAndGlyphs">MQTT / CoAP /</text>
<text x="1009.23" y="650.2" font-size="11.5" font-weight="normal" fill="#1c1c1c" stroke="#1c1c1c" stroke-width="0.25" textLength="70.03" lengthAdjust="spacingAndGlyphs">Low-Latency API</text>
<rect x="1087.5" y="639.0" width="58.8" height="33.4" rx="4" fill="#1f2d45" stroke="none" stroke-width="0"/>
<text x="1104.82" y="653.5" font-size="11.5" font-weight="bold" fill="#ffffff" stroke="#ffffff" stroke-width="0.2" textLength="24.52" lengthAdjust="spacingAndGlyphs">EDGE</text>
<text x="1094.63" y="665.7" font-size="11.5" font-weight="bold" fill="#ffffff" stroke="#ffffff" stroke-width="0.2" textLength="44.22" lengthAdjust="spacingAndGlyphs">GATEWAY</text>
<polygon points="1117.00,597.60 1109.75,607.60 1113.40,607.60 1113.40,627.30 1109.75,627.30 1117.00,637.30 1124.25,627.30 1120.60,627.30 1120.60,607.60 1124.25,607.60" fill="#dde5ef" stroke="#4a5568" stroke-width="1.1" stroke-linejoin="miter"/>
<text x="1129.55" y="616.2" font-size="12" font-weight="normal" fill="#1c1c1c" stroke="#1c1c1c" stroke-width="0.25" textLength="63.40" lengthAdjust="spacingAndGlyphs">Secure Tunnel</text>
<text x="1123.08" y="628.7" font-size="12" font-weight="normal" fill="#1c1c1c" stroke="#1c1c1c" stroke-width="0.25" textLength="75.84" lengthAdjust="spacingAndGlyphs">(WireGuard/TLS)</text>
<rect x="1206.5" y="618.4" width="146.7" height="45.4" rx="5" fill="#e6e9ee" stroke="none" stroke-width="0"/>
<text x="1212.92" y="632.6" font-size="12" font-weight="bold" fill="#111" stroke="#111" stroke-width="0.2" textLength="28.93" lengthAdjust="spacingAndGlyphs">Step 3</text>
<text x="1241.71" y="632.6" font-size="12" font-weight="normal" fill="#1c1c1c" stroke="#1c1c1c" stroke-width="0.25" textLength="103.83" lengthAdjust="spacingAndGlyphs">: Embrace Cloud-Native</text>
<text x="1212.34" y="644.9" font-size="12" font-weight="normal" fill="#1c1c1c" stroke="#1c1c1c" stroke-width="0.25" textLength="133.31" lengthAdjust="spacingAndGlyphs">principles, Microservices, and</text>
<text x="1212.58" y="656.7" font-size="12" font-weight="normal" fill="#1c1c1c" stroke="#1c1c1c" stroke-width="0.25" textLength="126.44" lengthAdjust="spacingAndGlyphs">distributed Edge processing.</text>
<rect x="1030.5" y="677.3" width="172.9" height="64.2" rx="5" fill="#e6e9ee" stroke="#2a3650" stroke-width="1.3"/>
<text x="1054.00" y="691.5" font-size="12" font-weight="bold" fill="#111" stroke="#111" stroke-width="0.2" textLength="125.56" lengthAdjust="spacingAndGlyphs">EDGE COMPUTING DEVICES</text>
<text x="1097.89" y="704.2" font-size="12" font-weight="normal" fill="#1c1c1c" stroke="#1c1c1c" stroke-width="0.25" textLength="38.32" lengthAdjust="spacingAndGlyphs">(IoT, 5G)</text>
<rect x="1038.3" y="726.1" width="26.2" height="7.6" rx="2.5" fill="none" stroke="#2a3142" stroke-width="1.3" stroke-linecap="round"/>
<ellipse cx="1043.7" cy="729.8" rx="1.9" ry="1.2" fill="none" stroke="#2a3142" stroke-width="1.3" stroke-linecap="round"/>
<line x1="1055" y1="729.2" x2="1055" y2="730.4" stroke="#2a3142" stroke-width="0.9"/>
<line x1="1057.8" y1="729.2" x2="1057.8" y2="730.4" stroke="#2a3142" stroke-width="0.9"/>
<line x1="1060.6" y1="729.2" x2="1060.6" y2="730.4" stroke="#2a3142" stroke-width="0.9"/>
<line x1="1051.6" y1="720.8" x2="1051.6" y2="726" fill="none" stroke="#2a3142" stroke-width="1.3" stroke-linecap="round"/>
<path d="M1048.3,719.6 Q1051.6,716.2 1054.9,719.6" fill="none" stroke="#2a3142" stroke-width="1.3" stroke-linecap="round"/>
<path d="M1046,717.4 Q1051.6,712.2 1057.2,717.4" fill="none" stroke="#2a3142" stroke-width="1.3" stroke-linecap="round"/>
<path d="M1043.9,714.5 Q1051.6,708 1059.3,714.5" fill="none" stroke="#2a3142" stroke-width="1.3" stroke-linecap="round"/>
<path d="M1080.4,715.7 Q1073.4,723.8 1080.4,732" fill="none" stroke="#2a3142" stroke-width="1.3" stroke-linecap="round"/>
<path d="M1083,718.2 Q1078.2,723.8 1083,729.5" fill="none" stroke="#2a3142" stroke-width="1.3" stroke-linecap="round"/>
<path d="M1095.4,715.7 Q1102.4,723.8 1095.4,732" fill="none" stroke="#2a3142" stroke-width="1.3" stroke-linecap="round"/>
<path d="M1092.8,718.2 Q1097.6,723.8 1092.8,729.5" fill="none" stroke="#2a3142" stroke-width="1.3" stroke-linecap="round"/>
<path d="M1085.6,726.5 V723 Q1085.6,720.3 1087.9,720.3 Q1090.2,720.3 1090.2,723 V726.5" fill="none" stroke="#2a3142" stroke-width="1.3" stroke-linecap="round"/>
<rect x="1114.2" y="710.3" width="14.2" height="26.5" rx="2.2" fill="none" stroke="#2a3142" stroke-width="1.3" stroke-linecap="round"/>
<line x1="1114.2" y1="713.9" x2="1128.4" y2="713.9" stroke="#2a3142" stroke-width="1.3"/>
<line x1="1114.2" y1="731.7" x2="1128.4" y2="731.7" stroke="#2a3142" stroke-width="1.1"/>
<circle cx="1121.3" cy="734.1" r="0.8" fill="#2a3142"/>
<rect x="1144.4" y="710.3" width="14.1" height="26.5" rx="2.2" fill="none" stroke="#2a3142" stroke-width="1.3" stroke-linecap="round"/>
<line x1="1144.4" y1="713.9" x2="1158.5" y2="713.9" stroke="#2a3142" stroke-width="1.3"/>
<line x1="1144.4" y1="731.7" x2="1158.5" y2="731.7" stroke="#2a3142" stroke-width="1.1"/>
<line x1="1151.4" y1="731.7" x2="1151.4" y2="736.8" stroke="#2a3142" stroke-width="1.1"/>
<circle cx="1151.5" cy="723" r="3.9" fill="none" stroke="#2a3142" stroke-width="1.3" stroke-linecap="round"/>
<path d="M1149,721.5 Q1151,720.5 1152.5,722.5 Q1153.5,724.5 1151.5,725.5" fill="none" stroke="#2a3142" stroke-width="1"/>
<rect x="1175.5" y="714.7" width="15.7" height="16.7" rx="2.5" fill="none" stroke="#2a3142" stroke-width="1.3" stroke-linecap="round"/>
<rect x="1178.9" y="719" width="9" height="8.4" rx="1.3" fill="none" stroke="#2a3142" stroke-width="1.3" stroke-linecap="round"/>
<line x1="1179.3" y1="711.8" x2="1179.3" y2="714.4" stroke="#2a3142" stroke-width="0.9"/>
<line x1="1179.3" y1="731.7" x2="1179.3" y2="734.6" stroke="#2a3142" stroke-width="0.9"/>
<line x1="1182.1" y1="711.8" x2="1182.1" y2="714.4" stroke="#2a3142" stroke-width="0.9"/>
<line x1="1182.1" y1="731.7" x2="1182.1" y2="734.6" stroke="#2a3142" stroke-width="0.9"/>
<line x1="1184.9" y1="711.8" x2="1184.9" y2="714.4" stroke="#2a3142" stroke-width="0.9"/>
<line x1="1184.9" y1="731.7" x2="1184.9" y2="734.6" stroke="#2a3142" stroke-width="0.9"/>
<line x1="1187.7" y1="711.8" x2="1187.7" y2="714.4" stroke="#2a3142" stroke-width="0.9"/>
<line x1="1187.7" y1="731.7" x2="1187.7" y2="734.6" stroke="#2a3142" stroke-width="0.9"/>
<line x1="1172" y1="719.6" x2="1175.2" y2="719.6" stroke="#2a3142" stroke-width="0.9"/>
<line x1="1191.5" y1="719.6" x2="1194.8" y2="719.6" stroke="#2a3142" stroke-width="0.9"/>
<line x1="1172" y1="722.9" x2="1175.2" y2="722.9" stroke="#2a3142" stroke-width="0.9"/>
<line x1="1191.5" y1="722.9" x2="1194.8" y2="722.9" stroke="#2a3142" stroke-width="0.9"/>
<line x1="1172" y1="726.2" x2="1175.2" y2="726.2" stroke="#2a3142" stroke-width="0.9"/>
<line x1="1191.5" y1="726.2" x2="1194.8" y2="726.2" stroke="#2a3142" stroke-width="0.9"/>
<text x="1188.8" y="737.9" font-size="27" font-weight="normal" fill="#b4b7bc" textLength="162" lengthAdjust="spacingAndGlyphs">cloudrps.com</text>
<text x="1188" y="737.1" font-size="27" font-weight="normal" fill="#ffffff" stroke="#c9ccd1" stroke-width="0.6" textLength="162" lengthAdjust="spacingAndGlyphs">cloudrps.com</text>
</svg></body></html>
